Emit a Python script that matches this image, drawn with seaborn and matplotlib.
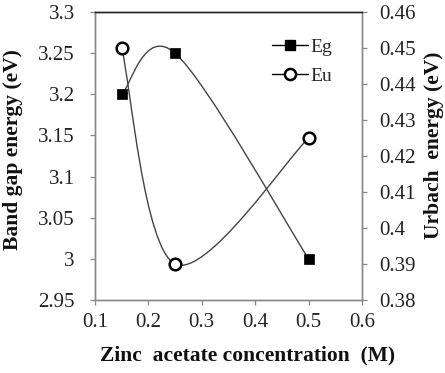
import numpy as np
import pandas as pd
import seaborn as sns
import matplotlib
matplotlib.use("Agg")
import matplotlib.pyplot as plt
from matplotlib.path import Path
from matplotlib.patches import PathPatch
from matplotlib.lines import Line2D

# Data
concentration = [0.15, 0.25, 0.5]
eg_values = [3.2, 3.25, 3.0]
eu_values = [0.45, 0.39, 0.425]
x_ticks = [0.1, 0.2, 0.3, 0.4, 0.5, 0.6]
eg_ticks = [2.95, 3.0, 3.05, 3.1, 3.15, 3.2, 3.25, 3.3]
eu_ticks = [0.38, 0.39, 0.40, 0.41, 0.42, 0.43, 0.44, 0.45, 0.46]

sns.set_style("white")
plt.rcParams["font.family"] = ["Liberation Serif", "DejaVu Serif"]

W, H = 445, 373
fig = plt.figure(figsize=(W / 100, H / 100), dpi=100)
L, R, T, B = 95, 362, 12, 300
ax = fig.add_axes([L / W, 1 - B / H, (R - L) / W, (B - T) / H])
ax2 = ax.twinx()


def smooth_path(xs, ys, k=1 / 6):
    pts = np.column_stack([xs, ys]).astype(float)
    n = len(pts)
    verts = [pts[0]]
    codes = [Path.MOVETO]
    for i in range(n - 1):
        p_prev = pts[i - 1] if i > 0 else pts[i]
        p_next2 = pts[i + 2] if i + 2 < n else pts[i + 1]
        c1 = pts[i] + (pts[i + 1] - p_prev) * k
        c2 = pts[i + 1] - (p_next2 - pts[i]) * k
        verts += [c1, c2, pts[i + 1]]
        codes += [Path.CURVE4] * 3
    return Path(verts, codes)


df_eg = pd.DataFrame({"x": concentration, "y": eg_values})
df_eu = pd.DataFrame({"x": concentration, "y": eu_values})

ax.add_patch(PathPatch(smooth_path(concentration, eg_values), fill=False,
                       edgecolor="#444444", lw=1.0, zorder=2))
sns.scatterplot(data=df_eg, x="x", y="y", ax=ax, marker="s", s=50,
                color="black", edgecolor="black", linewidth=0.5, zorder=3, legend=False)

ax2.add_patch(PathPatch(smooth_path(concentration, eu_values), fill=False,
                        edgecolor="#444444", lw=1.0, zorder=2))
sns.scatterplot(data=df_eu, x="x", y="y", ax=ax2, marker="o", s=70,
                facecolor="white", edgecolor="black", linewidth=1.8, zorder=3, legend=False)

ax.set_xlim(0.1, 0.6)
ax.set_ylim(2.95, 3.3)
ax2.set_ylim(0.38, 0.46)
ax.set_xticks(x_ticks)
ax.set_xticklabels([f"{v:g}" for v in x_ticks])
ax.set_yticks(eg_ticks)
ax.set_yticklabels([f"{v:g}" for v in eg_ticks])
ax2.set_yticks(eu_ticks)
ax2.set_yticklabels([f"{v:g}" for v in eu_ticks])

for a in (ax, ax2):
    a.tick_params(axis="both", direction="out", length=3.6, width=0.9,
                  color="#888888", labelsize=15, labelcolor="#222222")
    for s in ["left", "right", "bottom"]:
        a.spines[s].set_color("#888888")
        a.spines[s].set_linewidth(1.0)
    a.spines["top"].set_color("#222222")
    a.spines["top"].set_linewidth(1.0)
ax.tick_params(axis="y", left=True, right=False, pad=11)
ax.tick_params(axis="x", bottom=True, pad=6)
ax2.tick_params(axis="y", right=True, left=False, pad=8.5)

lab_font = dict(fontsize=15.5, fontweight="bold", color="#111111")
ax.set_xlabel("Zinc  acetate concentration  (M)", **lab_font)
ax.set_ylabel("Band gap energy (eV)", **lab_font)
ax2.set_ylabel("Urbach  energy (eV)", **lab_font)
ax.xaxis.label.set_va("center")
ax.yaxis.label.set_va("center")
ax2.yaxis.label.set_va("center")
ax.xaxis.set_label_coords((248 - L) / (R - L), (B - 355) / (B - T))
ax.yaxis.set_label_coords((13 - L) / (R - L), (B - 150) / (B - T))
ax2.yaxis.set_label_coords((434 - L) / (R - L), (B - 145) / (B - T))

handles = [
    Line2D([], [], color="black", lw=1.0, marker="s", markersize=7,
           markerfacecolor="black", markeredgecolor="black"),
    Line2D([], [], color="black", lw=1.0, marker="o", markersize=8,
           markerfacecolor="white", markeredgecolor="black", markeredgewidth=1.8),
]
ax.legend(handles, ["Eg", "Eu"], loc="upper left",
          bbox_to_anchor=((272 - L) / (R - L), (B - 38) / (B - T)),
          frameon=False, fontsize=14, handlelength=1.85, handletextpad=0.15,
          labelspacing=0.6, borderpad=0, borderaxespad=0)

fig.savefig("out.png", dpi=100)
